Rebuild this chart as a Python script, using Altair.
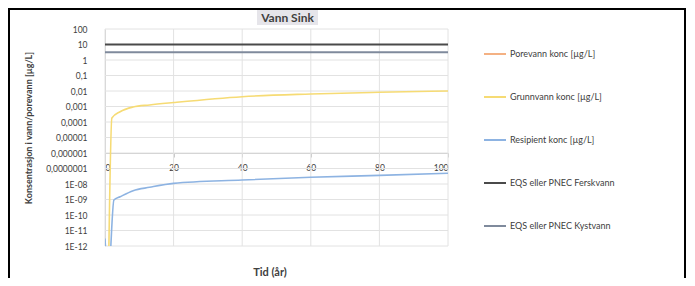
import altair as alt
import pandas as pd

# ---------------- data ----------------
series_names = [
    "Porevann konc [µg/L]",
    "Grunnvann konc [µg/L]",
    "Resipient konc [µg/L]",
    "EQS eller PNEC Ferskvann",
    "EQS eller PNEC Kystvann",
]
series_colors = ["#F4B183", "#F6DB74", "#8DB3E2", "#4A4A4A", "#7F8A9C"]

grunn_t = [1, 2, 4.4, 8.2, 13, 20, 40, 60, 80, 100]
grunn_v = [1e-14, 1.8e-4, 4.6e-4, 9.3e-4, 1.26e-3, 1.8e-3, 4.3e-3, 6.4e-3, 8.3e-3, 1.0e-2]

resip_t = [0, 1, 2.6, 4.4, 8.2, 13, 20, 40, 60, 80, 100]
resip_v = [3e-12, 1e-14, 9.3e-10, 1.5e-9, 3.7e-9, 6.1e-9, 1.1e-8, 1.8e-8, 2.7e-8, 3.6e-8, 4.9e-8]

eqs_t = [0, 100]
eqs_fersk = 10
eqs_kyst = 3.2

y_ticks = [1e-12, 1e-11, 1e-10, 1e-9, 1e-8, 1e-7, 1e-6, 1e-5, 1e-4, 1e-3, 1e-2, 1e-1, 1, 10, 100]
y_tick_labels = ["1E-12", "1E-11", "1E-10", "1E-09", "1E-08", "0,0000001", "0,000001",
                 "0,00001", "0,0001", "0,001", "0,01", "0,1", "1", "10", "100"]
x_ticks = [0, 20, 40, 60, 80, 100]

chart_title = "Vann Sink"
x_title = "Tid (år)"
y_title = "Konsentrasjon i vann/porevann [µg/L]"

# ---------------- tables ----------------
curve_rows = []
for t, v in zip(grunn_t, grunn_v):
    curve_rows.append({"t": t, "v": v, "serie": series_names[1]})
for t, v in zip(resip_t, resip_v):
    curve_rows.append({"t": t, "v": v, "serie": series_names[2]})
df_curves = pd.DataFrame(curve_rows)

eqs_rows = []
for t in eqs_t:
    eqs_rows.append({"t": t, "v": eqs_fersk, "serie": series_names[3]})
    eqs_rows.append({"t": t, "v": eqs_kyst, "serie": series_names[4]})
df_eqs = pd.DataFrame(eqs_rows)

df_xgrid = pd.DataFrame({"t": x_ticks})
df_ygrid = pd.DataFrame({"v": y_ticks})

# ---------------- layout ----------------
W, H = 343, 217
PAD_L, PAD_T = 97, 21
TOTAL_W, TOTAL_H = 679, 270
FONT = "Lato"

label_array = "[" + ",".join("'" + s + "'" for s in y_tick_labels) + "]"
y_label_expr = label_array + "[round(log(datum.value)/LN10)+12]"

x_scale = alt.Scale(domain=[0, 100], nice=False, zero=False)
y_scale = alt.Scale(type="log", domain=[1e-12, 100], nice=False)
color_scale = alt.Scale(domain=series_names, range=series_colors)

legend = alt.Legend(
    orient="none", legendX=378, legendY=13, title=None,
    symbolType="stroke", symbolSize=484, symbolStrokeWidth=2,
    labelFontSize=9, labelColor="#404040", labelFont=FONT,
    rowPadding=26, padding=0, labelOffset=3,
)

x_axis = alt.Axis(
    values=x_ticks, title=None, offset=-93, grid=False,
    domainColor="#C8C8C8", tickColor="#C8C8C8", tickSize=4,
    labelPadding=6, labelFontSize=8.5, labelColor="#404040", labelFont=FONT, format="d",
)
y_axis = alt.Axis(
    values=y_ticks, title=None, grid=False, ticks=False,
    domainColor="#D0D0D0", labelPadding=18, labelFontSize=8.5,
    labelColor="#404040", labelFont=FONT, labelExpr=y_label_expr,
)

xgrid = alt.Chart(df_xgrid).mark_rule(color="#E2E2E2", strokeWidth=1).encode(
    x=alt.X("t:Q", scale=x_scale, axis=x_axis)
)
ygrid = alt.Chart(df_ygrid).mark_rule(color="#E2E2E2", strokeWidth=1).encode(
    y=alt.Y("v:Q", scale=y_scale, axis=y_axis)
)

eqs = alt.Chart(df_eqs).mark_line(strokeWidth=2, clip=True).encode(
    x=alt.X("t:Q", scale=x_scale, axis=x_axis),
    y=alt.Y("v:Q", scale=y_scale, axis=y_axis),
    color=alt.Color("serie:N", scale=color_scale, legend=legend),
    detail="serie:N",
)

curves = alt.Chart(df_curves).mark_line(strokeWidth=1.6, clip=True, interpolate="monotone").encode(
    x=alt.X("t:Q", scale=x_scale, axis=x_axis),
    y=alt.Y("v:Q", scale=y_scale, axis=y_axis),
    color=alt.Color("serie:N", scale=color_scale, legend=legend),
    order="t:Q",
)

title_box = alt.Chart(pd.DataFrame({"a": [0]})).mark_rect(color="#E6E5EA").encode(
    x=alt.value(152), x2=alt.value(213), y=alt.value(-19), y2=alt.value(-4)
)
title_txt = alt.Chart(pd.DataFrame({"label": [chart_title]})).mark_text(
    font=FONT, fontSize=12, fontWeight="bold", color="#404040", baseline="middle", align="center"
).encode(x=alt.value(182.5), y=alt.value(-11.5), text="label:N")

xt = alt.Chart(pd.DataFrame({"label": [x_title]})).mark_text(
    font=FONT, fontSize=11, fontWeight="bold", color="#404040", baseline="middle", align="center"
).encode(x=alt.value(165), y=alt.value(244), text="label:N")

yt = alt.Chart(pd.DataFrame({"label": [y_title]})).mark_text(
    font=FONT, fontSize=9, fontWeight="bold", color="#404040", baseline="middle",
    align="center", angle=270,
).encode(x=alt.value(-76), y=alt.value(99), text="label:N")

frame_left = alt.Chart(pd.DataFrame({"a": [0]})).mark_rule(color="black", strokeWidth=2).encode(
    x=alt.value(-96), y=alt.value(-20), y2=alt.value(249)
)
frame_right = alt.Chart(pd.DataFrame({"a": [0]})).mark_rule(color="black", strokeWidth=2).encode(
    x=alt.value(580), y=alt.value(-20), y2=alt.value(249)
)
frame_top = alt.Chart(pd.DataFrame({"a": [0]})).mark_rule(color="black", strokeWidth=2).encode(
    x=alt.value(-97), x2=alt.value(581), y=alt.value(-20)
)

chart = alt.layer(
    xgrid, ygrid, eqs, curves, title_box, title_txt, xt, yt,
    frame_left, frame_right, frame_top,
).properties(
    width=W, height=H,
    autosize=alt.AutoSizeParams(type="none"),
    padding={"left": PAD_L, "top": PAD_T, "right": TOTAL_W - PAD_L - W, "bottom": TOTAL_H - PAD_T - H},
    background="white",
).configure_view(stroke=None)

chart.save("out.html", embed_options={"renderer": "svg", "actions": False})
